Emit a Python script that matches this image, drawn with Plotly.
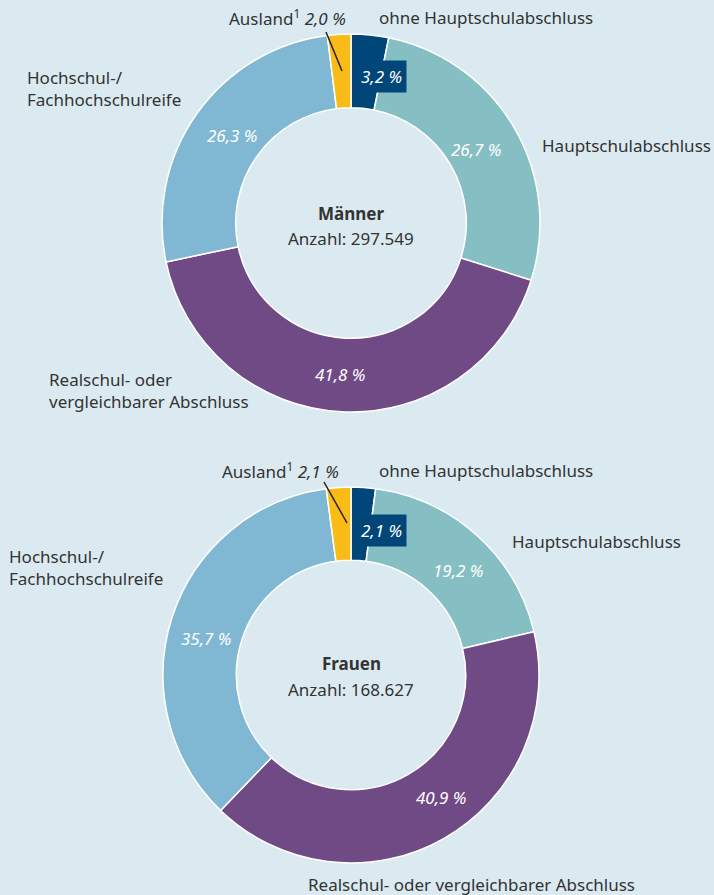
import plotly.graph_objects as go

W, H = 714, 895

categories = ["ohne Hauptschulabschluss", "Hauptschulabschluss",
              "Realschul- oder vergleichbarer Abschluss",
              "Hochschul-/Fachhochschulreife", "Ausland"]
maenner = [3.2, 26.7, 41.8, 26.3, 2.0]
frauen = [2.1, 19.2, 40.9, 35.7, 2.1]
colors = ["#004678", "#86bfc3", "#6f4a85", "#80b8d3", "#fbbb16"]
anzahl_m = "297.549"
anzahl_f = "168.627"

BG = "#dbeaf1"
TXT = "#333333"
FONT = "Noto Sans"
FS = 17


def px(x, y):
    return x / W, 1 - y / H


def fmt(v):
    return f"{v:.1f}".replace(".", ",") + " %"


fig = go.Figure()


def add_donut(values, cx, cy, r):
    x0, y0 = px(cx - r, cy + r)
    x1, y1 = px(cx + r, cy - r)
    fig.add_trace(go.Pie(
        labels=categories, values=values, sort=False, direction="clockwise",
        rotation=0, hole=0.61, textinfo="none", hoverinfo="label+percent",
        marker=dict(colors=colors, line=dict(color="white", width=1.5)),
        domain=dict(x=[x0, x1], y=[y0, y1]), showlegend=False))


add_donut(maenner, 351, 223, 189)
add_donut(frauen, 351, 675, 188)

ann = []


def text(x, y, s, size=FS, color=TXT, xanchor="center", bg=None, align="left"):
    xp, yp = px(x, y)
    d = dict(x=xp, y=yp, xref="paper", yref="paper", text=s, showarrow=False,
             xanchor=xanchor, yanchor="middle", align=align,
             font=dict(family=FONT, size=size, color=color))
    if bg:
        d.update(bgcolor=bg, borderpad=4)
    ann.append(d)


# --- Männer ---
text(351, 213, "<b>Männer</b>")
text(351, 238, f"Anzahl: {anzahl_m}")
text(377, 18, categories[0], xanchor="left")
text(540, 146, categories[1], xanchor="left")
text(47, 391, "Realschul- oder<br>vergleichbarer Abschluss", xanchor="left")
text(25, 89, "Hochschul-/<br>Fachhochschulreife", xanchor="left")
text(287, 18, f"Ausland<sup>1</sup> <i>{fmt(maenner[4])}</i>")
text(381, 76, f"<i>{fmt(maenner[0])}</i>", color="white", bg=colors[0])
text(476, 150, f"<i>{fmt(maenner[1])}</i>", color="white")
text(340, 375, f"<i>{fmt(maenner[2])}</i>", color="white")
text(232, 135, f"<i>{fmt(maenner[3])}</i>", color="white")

# --- Frauen ---
text(351, 663, "<b>Frauen</b>")
text(351, 689, f"Anzahl: {anzahl_f}")
text(377, 471, categories[0], xanchor="left")
text(510, 541, categories[1], xanchor="left")
text(306, 884, categories[2], xanchor="left")
text(7, 567, "Hochschul-/<br>Fachhochschulreife", xanchor="left")
text(280, 471, f"Ausland<sup>1</sup> <i>{fmt(frauen[4])}</i>")
text(381, 530, f"<i>{fmt(frauen[0])}</i>", color="white", bg=colors[0])
text(458, 570, f"<i>{fmt(frauen[1])}</i>", color="white")
text(441, 797, f"<i>{fmt(frauen[2])}</i>", color="white")
text(206, 638, f"<i>{fmt(frauen[3])}</i>", color="white")

shapes = []
for (ax, ay, bx, by) in [(326, 32, 342, 71), (324, 482, 347, 523)]:
    a = px(ax, ay)
    b = px(bx, by)
    shapes.append(dict(type="line", xref="paper", yref="paper",
                       x0=a[0], y0=a[1], x1=b[0], y1=b[1],
                       line=dict(color="#222222", width=1.5)))

fig.update_layout(width=W, height=H, margin=dict(l=0, r=0, t=0, b=0),
                  paper_bgcolor=BG, plot_bgcolor=BG,
                  annotations=ann, shapes=shapes,
                  font=dict(family=FONT, color=TXT))
fig.write_html("out.html", config={"displayModeBar": False},
               post_script="document.body.style.margin='0';"
                           "document.body.style.overflow='hidden';")
